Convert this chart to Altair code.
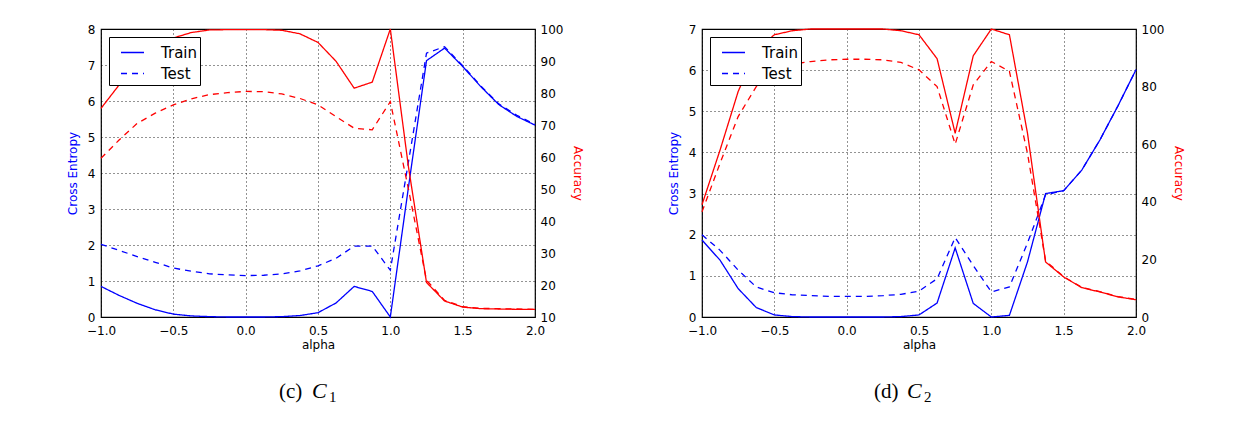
import altair as alt
import pandas as pd

alpha = [-1.0, -0.875, -0.75, -0.625, -0.5, -0.375, -0.25, -0.125, 0.0, 0.125, 0.25, 0.375,
         0.5, 0.625, 0.75, 0.875, 1.0, 1.125, 1.25, 1.375, 1.5, 1.625, 1.75, 1.875, 2.0]

c1_train_loss = [0.85, 0.6, 0.38, 0.2, 0.08, 0.03, 0.01, 0.0, 0.0, 0.0, 0.01, 0.04, 0.12, 0.39,
                 0.85, 0.71, 0.0, 3.6, 7.12, 7.47, 6.96, 6.4, 5.9, 5.57, 5.33]
c1_test_loss = [2.02, 1.85, 1.68, 1.52, 1.36, 1.27, 1.2, 1.17, 1.15, 1.16, 1.2, 1.28, 1.42, 1.63,
                1.97, 1.97, 1.3, 4.3, 7.33, 7.51, 6.98, 6.42, 5.92, 5.6, 5.35]
c1_train_acc = [75.2, 82.5, 88.8, 93.5, 97.2, 98.9, 99.7, 99.8, 99.8, 99.8, 99.6, 98.5, 95.8, 89.9,
                81.5, 83.4, 100.0, 57.0, 20.8, 15.0, 13.1, 12.6, 12.5, 12.4, 12.4]
c1_test_acc = [59.6, 65.3, 70.5, 73.7, 76.3, 78.2, 79.5, 80.1, 80.5, 80.4, 79.7, 78.3, 76.3, 72.6,
               69.0, 68.5, 77.3, 50.0, 21.5, 15.2, 13.2, 12.7, 12.6, 12.5, 12.4]

c2_train_loss = [1.87, 1.38, 0.69, 0.23, 0.05, 0.01, 0.0, 0.0, 0.0, 0.0, 0.0, 0.01, 0.05, 0.34,
                 1.68, 0.33, 0.0, 0.04, 1.34, 3.0, 3.07, 3.57, 4.3, 5.13, 6.01]
c2_test_loss = [2.0, 1.62, 1.14, 0.73, 0.59, 0.54, 0.52, 0.5, 0.5, 0.5, 0.52, 0.55, 0.63, 0.93,
                1.93, 1.25, 0.61, 0.73, 1.8, 2.97, 3.07, 3.57, 4.3, 5.13, 6.01]
c2_train_acc = [39.0, 58.0, 78.3, 92.6, 98.0, 99.4, 100.0, 100.0, 100.0, 100.0, 100.0, 99.4, 98.0,
                89.7, 63.8, 90.7, 100.0, 98.0, 63.8, 19.1, 13.9, 10.2, 8.7, 7.0, 6.0]
c2_test_acc = [36.5, 53.4, 69.6, 80.0, 86.0, 87.8, 88.7, 89.3, 89.5, 89.5, 89.3, 88.4, 85.8, 80.0,
               60.0, 80.6, 88.7, 85.3, 56.8, 19.5, 14.0, 10.3, 8.8, 7.1, 6.1]

series_names = ["Train", "Test"]
x_ticks = [-1.0, -0.5, 0.0, 0.5, 1.0, 1.5, 2.0]
captions = [["(c)", "C", "1"], ["(d)", "C", "2"]]

FONT = "DejaVu Sans"
SERIF = "Liberation Serif"
W, H = 434, 288


def long_df(train, test):
    return pd.DataFrame({
        "alpha": alpha + alpha,
        "value": train + test,
        "type": [series_names[0]] * len(alpha) + [series_names[1]] * len(alpha),
    })


def caption_layers(parts, x0):
    label, letter, sub = parts
    df = pd.DataFrame({"label": [label], "letter": [letter], "sub": [sub]})
    base = alt.Chart(df)
    a = base.mark_text(font=SERIF, fontSize=21, align="left", baseline="alphabetic",
                       color="black").encode(text="label:N", x=alt.value(x0), y=alt.value(H + 81))
    b = base.mark_text(font=SERIF, fontSize=22, fontStyle="italic", align="left",
                       baseline="alphabetic", color="black").encode(
        text="letter:N", x=alt.value(x0 + 33), y=alt.value(H + 81))
    c = base.mark_text(font=SERIF, fontSize=15, align="left", baseline="alphabetic",
                       color="black").encode(text="sub:N", x=alt.value(x0 + 50), y=alt.value(H + 85))
    return [a, b, c]


def panel(tl, vl, ta, va, loss_max, acc_min, acc_step, parts, cap_x):
    dash = alt.StrokeDash(
        "type:N",
        scale=alt.Scale(domain=series_names, range=[[1, 0], [6, 5]]),
        legend=alt.Legend(
            title=None, orient="top-left", offset=8, padding=3,
            strokeColor="black", fillColor="white", cornerRadius=0,
            symbolType="stroke", symbolStrokeColor="blue", symbolStrokeWidth=1.5,
            symbolSize=529, symbolOffset=8, labelFontSize=15, labelFont=FONT,
            labelColor="black", labelOffset=16, rowPadding=0,
        ),
    )
    x = alt.X(
        "alpha:Q",
        scale=alt.Scale(domain=[-1, 2], nice=False, zero=False),
        axis=alt.Axis(
            title="alpha", values=x_ticks, labelFlush=False,
            labelExpr="replace(format(datum.value, '.1f'), '-', '\u2212')",
            grid=True, gridDash=[1, 3], gridColor="black", gridOpacity=0.85,
            ticks=False, domain=False, labelPadding=8, titlePadding=3,
        ),
    )
    loss = alt.Chart(long_df(tl, vl)).mark_line(color="blue", strokeWidth=1.3).encode(
        x=x,
        y=alt.Y(
            "value:Q",
            scale=alt.Scale(domain=[0, loss_max], nice=False),
            axis=alt.Axis(
                title="Cross Entropy", titleColor="blue", orient="left",
                values=list(range(loss_max + 1)), grid=True, gridDash=[1, 3],
                gridColor="black", gridOpacity=0.85, ticks=False, domain=False,
                labelPadding=6, titlePadding=8,
            ),
        ),
        strokeDash=dash,
    )
    acc = alt.Chart(long_df(ta, va)).mark_line(color="red", strokeWidth=1.3).encode(
        x=x,
        y=alt.Y(
            "value:Q",
            scale=alt.Scale(domain=[acc_min, 100], nice=False, zero=False),
            axis=alt.Axis(
                title="Accuracy", titleColor="red", orient="right",
                values=list(range(acc_min, 101, acc_step)), grid=False,
                ticks=False, domain=False, labelPadding=5, titlePadding=8,
            ),
        ),
        strokeDash=dash,
    )
    return alt.layer(loss, acc, *caption_layers(parts, cap_x)).resolve_scale(
        y="independent"
    ).properties(width=W, height=H)


p1 = panel(c1_train_loss, c1_test_loss, c1_train_acc, c1_test_acc, 8, 10, 10, captions[0], 178)
p2 = panel(c2_train_loss, c2_test_loss, c2_train_acc, c2_test_acc, 7, 0, 20, captions[1], 172)

chart = alt.hconcat(p1, p2, spacing=81).resolve_legend(strokeDash="independent").resolve_scale(
    strokeDash="independent"
).properties(
    padding={"left": 57, "top": 14, "right": 5, "bottom": 5},
    background="white",
).configure_view(
    stroke="black", strokeWidth=1.2
).configure_axis(
    labelFont=FONT, titleFont=FONT, labelFontSize=12, titleFontSize=12,
    titleFontWeight="normal", labelColor="black",
)

chart.save("out.html", embed_options={"renderer": "svg", "actions": False})
